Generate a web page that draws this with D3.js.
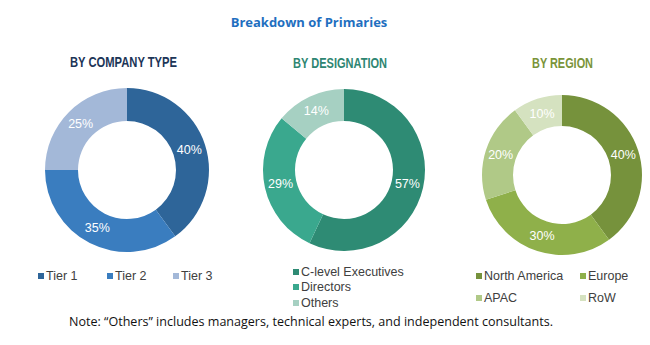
<!DOCTYPE html>
<meta charset="utf-8">
<title>Breakdown of Primaries</title>
<style>
    body { margin: 0; background: #fff; }
    .pct { fill: #fff; font-family: "Liberation Sans", Arial, sans-serif; font-size: 12.5px; text-anchor: middle; dominant-baseline: central; }
    .sub { font-family: "Liberation Sans", Arial, sans-serif; font-size: 14px; font-weight: bold; }
    .leg { font-family: "Liberation Sans", Arial, sans-serif; font-size: 12.5px; fill: #404040; dominant-baseline: central; }
</style>
<body>
<div id="chart"></div>
<script src="https://d3js.org/d3.v7.min.js"></script>
<script>
// data
var typeLabels = ["Tier 1", "Tier 2", "Tier 3"];
var typeValues = [40, 35, 25];
var designationLabels = ["C-level Executives", "Directors", "Others"];
var designationValues = [57, 29, 14];
var regionLabels = ["North America", "Europe", "APAC", "RoW"];
var regionValues = [40, 30, 20, 10];

var width = 650, height = 345;

var svg = d3.select("#chart").append("svg")
    .attr("width", width)
    .attr("height", height);

svg.append("text")
    .attr("x", 309).attr("y", 27)
    .attr("text-anchor", "middle")
    .attr("font-family", "Open Sans, sans-serif")
    .attr("font-size", "13px")
    .attr("font-weight", "bold")
    .attr("fill", "#1f6fbf")
    .text("Breakdown of Primaries");

// titles are in a condensed face, squeezed to the widths seen in the picture
var charts = [
    { title: "BY COMPANY TYPE", titleColor: "#1c3557", tx: 70, tw: 107, ty: 67, cx: 127, cy: 170, r: 82,
      labels: typeLabels, values: typeValues,
      colors: ["#2e6599", "#3a7dbf", "#a3b8d8"] },
    { title: "BY DESIGNATION", titleColor: "#2e8672", tx: 293, tw: 94, ty: 68, cx: 344, cy: 170, r: 81,
      labels: designationLabels, values: designationValues,
      colors: ["#2e8b74", "#3aa88e", "#a6d0c2"] },
    { title: "BY REGION", titleColor: "#7a943a", tx: 532, tw: 61, ty: 68, cx: 562, cy: 175, r: 80,
      labels: regionLabels, values: regionValues,
      colors: ["#76923c", "#8fb04a", "#b0c987", "#d5e2c0"] }
];

var pie = d3.pie().sort(null);

charts.forEach(function (c) {
    svg.append("text")
        .attr("class", "sub")
        .attr("x", c.tx).attr("y", c.ty)
        .attr("fill", c.titleColor)
        .attr("textLength", c.tw)
        .attr("lengthAdjust", "spacingAndGlyphs")
        .text(c.title);

    var arc = d3.arc().innerRadius(49).outerRadius(c.r);
    var g = svg.append("g").attr("transform", "translate(" + c.cx + "," + c.cy + ")");
    var arcs = pie(c.values);

    g.selectAll("path")
        .data(arcs)
        .enter().append("path")
        .attr("d", arc)
        .attr("fill", function (d, i) { return c.colors[i]; });

    g.selectAll("text")
        .data(arcs)
        .enter().append("text")
        .attr("class", "pct")
        .attr("transform", function (d) { return "translate(" + arc.centroid(d) + ")"; })
        .text(function (d) { return d.data + "%"; });
});

// legends
function legendItem(x, y, color, label) {
    svg.append("rect")
        .attr("x", x).attr("y", y - 3)
        .attr("width", 6).attr("height", 6)
        .attr("fill", color);
    svg.append("text")
        .attr("class", "leg")
        .attr("x", x + 8).attr("y", y)
        .text(label);
}

var typeX = [38, 107, 173];
typeLabels.forEach(function (l, i) { legendItem(typeX[i], 276, charts[0].colors[i], l); });

var desY = [272, 287, 303];
designationLabels.forEach(function (l, i) { legendItem(293, desY[i], charts[1].colors[i], l); });

var regX = [476, 580, 476, 580], regY = [276, 276, 298, 298];
regionLabels.forEach(function (l, i) { legendItem(regX[i], regY[i], charts[2].colors[i], l); });

svg.append("text")
    .attr("x", 69).attr("y", 326)
    .attr("font-family", "Open Sans, sans-serif")
    .attr("font-size", "12px")
    .attr("fill", "#111")
    .attr("textLength", 484)
    .attr("lengthAdjust", "spacingAndGlyphs")
    .text("Note: \u201cOthers\u201d includes managers, technical experts, and independent  consultants.");
</script>
</body>
